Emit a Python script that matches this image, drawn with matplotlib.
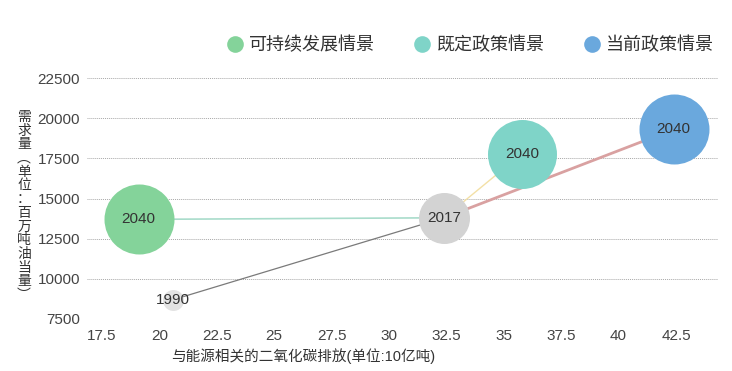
import matplotlib
matplotlib.use("Agg")
import matplotlib.pyplot as plt
from matplotlib.lines import Line2D

plt.rcParams['font.family'] = ['Liberation Sans', 'Noto Sans CJK SC', 'DejaVu Sans']

# ---- data ----
scenarios = ["可持续发展情景", "既定政策情景", "当前政策情景"]
emissions_2040 = [19.1, 35.8, 42.4]          # 10亿吨 CO2
demand_2040 = [13700, 17800, 19300]           # 百万吨油当量
base_years = ["1990", "2017"]
emissions_base = [20.6, 32.4]
demand_base = [8700, 13800]
year_2040 = "2040"

x_ticks = [17.5, 20, 22.5, 25, 27.5, 30, 32.5, 35, 37.5, 40, 42.5]
y_ticks = [7500, 10000, 12500, 15000, 17500, 20000, 22500]

# ---- styles ----
scen_colors = ["#84d39a", "#7fd4c8", "#6aa8dd"]
link_colors = ["#a9dccb", "#f3e0a6", "#d9a1a1"]
link_widths = [1.2, 1.0, 2.0]
base_colors = ["#e3e3e3", "#d3d3d3"]
bubble_d_2040 = [70, 69, 70]   # px diameters
bubble_d_base = [21, 51]

def s_of(d):
    return (d * 0.72) ** 2

fig = plt.figure(figsize=(7.32, 3.71), dpi=100)
ax = fig.add_axes([87/732, 52/371, (718-87)/732, (319-78)/371])
ax.set_xlim(16.85, 44.33)
ax.set_ylim(7500, 22500)

for s in ax.spines.values():
    s.set_visible(False)
ax.set_yticks(y_ticks)
ax.set_yticklabels([str(v) for v in y_ticks])
ax.set_xticks(x_ticks)
ax.set_xticklabels([f"{v:g}" for v in x_ticks])
ax.tick_params(axis='both', length=0, labelsize=11, colors="#444444")
ax.tick_params(axis='y', pad=5)
ax.tick_params(axis='x', pad=7)
ax.grid(axis='y', linestyle=(0, (1, 1)), color="#a8a8a8", linewidth=0.7)
ax.set_axisbelow(True)

# links
ax.plot(emissions_base, demand_base, color="#7a7a7a", linewidth=0.9, zorder=2)
for i in range(3):
    ax.plot([emissions_base[1], emissions_2040[i]], [demand_base[1], demand_2040[i]],
            color=link_colors[i], linewidth=link_widths[i], zorder=2,
            solid_capstyle='butt')

# bubbles
for i in range(2):
    ax.scatter([emissions_base[i]], [demand_base[i]], s=s_of(bubble_d_base[i]),
               color=base_colors[i], zorder=3, clip_on=False, linewidths=0)
    ax.text(emissions_base[i], demand_base[i], base_years[i], ha='center', va='center',
            fontsize=11, color="#333333", zorder=5)
for i in range(3):
    ax.scatter([emissions_2040[i]], [demand_2040[i]], s=s_of(bubble_d_2040[i]),
               color=scen_colors[i], zorder=4, clip_on=False, linewidths=0)
    ax.text(emissions_2040[i], demand_2040[i], year_2040, ha='center', va='center',
            fontsize=11, color="#333333", zorder=5)

# axis labels
ax.set_xlabel("与能源相关的二氧化碳排放(单位:10亿吨)", fontsize=10.5, color="#333333")
ax.xaxis.set_label_coords((303-87)/(718-87), -(348-319)/(319-78), transform=ax.transAxes)

ylab = "需求量︵单位：百万吨油当量︶"
fig.text(24/732, 1-206/371, "\n".join(ylab), ha='center', va='center',
         fontsize=10, linespacing=0.97, color="#333333",
         family=['Noto Sans CJK SC', 'DejaVu Sans'])

# legend
handles = [Line2D([], [], linestyle='none', marker='o', markersize=12,
                  markerfacecolor=c, markeredgewidth=0) for c in scen_colors]
fig.legend(handles, scenarios, loc='center right', bbox_to_anchor=(714/732, 1-45/371),
           ncol=3, frameon=False, handlelength=1.0, handletextpad=0.3,
           columnspacing=2.1, borderpad=0, borderaxespad=0,
           prop={'family': ['Noto Sans CJK SC', 'DejaVu Sans'], 'size': 13},
           labelcolor="#333333")

fig.savefig("out.png", dpi=100)
